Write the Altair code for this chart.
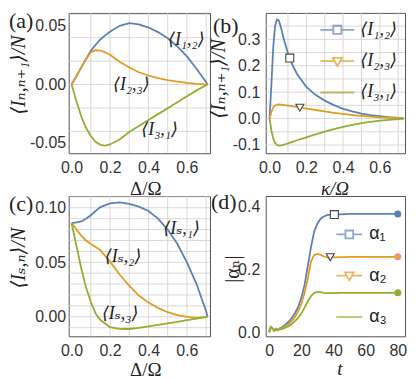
import altair as alt
import pandas as pd

# ---------------- data ----------------
# panel (a): currents vs Delta/Omega
a_x = [0, 0.025, 0.05, 0.075, 0.1, 0.125, 0.15, 0.175, 0.2, 0.25, 0.3, 0.35, 0.4, 0.45, 0.5, 0.55, 0.6, 0.65, 0.7, 0.707]
a_I12 = [0, 0.0072, 0.0144, 0.0216, 0.0288, 0.034, 0.0385, 0.042, 0.045, 0.0502, 0.0525, 0.0514, 0.0487, 0.0448, 0.0395, 0.0325, 0.024, 0.0135, 0.002, 0]
a_I23 = [0, 0.0072, 0.0144, 0.0215, 0.0275, 0.0293, 0.029, 0.0275, 0.0255, 0.0195, 0.0145, 0.0105, 0.0077, 0.0055, 0.0038, 0.0025, 0.0014, 0.0006, 0.0001, 0]
a_I31 = [0, -0.014, -0.027, -0.037, -0.044, -0.049, -0.0515, -0.0522, -0.0512, -0.047, -0.0406, -0.0355, -0.0304, -0.0253, -0.0203, -0.0152, -0.0101, -0.005, -0.0005, 0]
a_names = ["⟨I₁,₂⟩", "⟨I₂,₃⟩", "⟨I₃,₁⟩"]
a_lab_x = [0.597, 0.311, 0.458]
a_lab_y = [0.0376, -0.0008, -0.0393]

# panel (b): currents vs kappa/Omega
b_x = [0, 0.01, 0.02, 0.03, 0.04, 0.05, 0.06, 0.08, 0.1, 0.12, 0.15, 0.2, 0.25, 0.3, 0.35, 0.4, 0.45, 0.5, 0.55, 0.6, 0.65, 0.7, 0.73]
b_I12 = [0, 0.13, 0.27, 0.35, 0.375, 0.372, 0.35, 0.295, 0.248, 0.21, 0.168, 0.12, 0.09, 0.068, 0.051, 0.037, 0.027, 0.019, 0.013, 0.009, 0.0055, 0.003, 0.002]
b_I23 = [0, 0.025, 0.042, 0.05, 0.053, 0.0535, 0.053, 0.051, 0.049, 0.047, 0.044, 0.038, 0.0325, 0.027, 0.022, 0.0175, 0.0135, 0.01, 0.0072, 0.005, 0.0032, 0.0018, 0.0012]
b_I31 = [0, -0.045, -0.075, -0.091, -0.099, -0.102, -0.102, -0.098, -0.094, -0.089, -0.082, -0.071, -0.06, -0.049, -0.04, -0.031, -0.024, -0.017, -0.012, -0.0075, -0.0045, -0.002, -0.001]
b_sq = (0.11, 0.229)
b_tri = (0.165, 0.041)

# panel (c): source currents vs Delta/Omega
c_x = [0, 0.025, 0.05, 0.075, 0.1, 0.125, 0.15, 0.2, 0.25, 0.3, 0.35, 0.4, 0.45, 0.5, 0.55, 0.6, 0.65, 0.7, 0.707]
c_Is1 = [0.086, 0.0866, 0.0874, 0.090, 0.0932, 0.097, 0.1006, 0.1041, 0.105, 0.1035, 0.101, 0.097, 0.090, 0.080, 0.067, 0.050, 0.030, 0.005, 0]
c_Is2 = [0.086, 0.080, 0.0745, 0.070, 0.0668, 0.064, 0.061, 0.0506, 0.0388, 0.0285, 0.0195, 0.013, 0.0082, 0.0042, 0.0015, 0.0, -0.001, -0.0002, 0]
c_Is3 = [0.086, 0.0653, 0.0447, 0.027, 0.0138, 0.003, -0.003, -0.0095, -0.0111, -0.0112, -0.0102, -0.0087, -0.0075, -0.0061, -0.0046, -0.0031, -0.0016, -0.0002, 0]
c_names = ["⟨Iₛ,₁⟩", "⟨Iₛ,₂⟩", "⟨Iₛ,₃⟩"]
c_lab_x = [0.572, 0.268, 0.253]
c_lab_y = [0.0809, 0.0544, 0.0028]

# panel (d): amplitudes vs t
d_t = [0, 0.5, 1, 2, 3, 4, 5, 6, 7, 8, 10, 12, 14, 16, 18, 20, 22, 24, 26, 28, 30, 32, 34, 36, 38, 40, 45, 50, 60, 70, 80]
d_a1 = [0, 0.012, 0.017, 0.012, 0.006, 0.011, 0.008, 0.010, 0.013, 0.016, 0.024, 0.033, 0.045, 0.06, 0.08, 0.11, 0.15, 0.21, 0.27, 0.32, 0.345, 0.36, 0.367, 0.371, 0.373, 0.374, 0.374, 0.375, 0.375, 0.375, 0.375]
d_a2 = [0, 0.011, 0.016, 0.011, 0.005, 0.010, 0.007, 0.009, 0.011, 0.013, 0.019, 0.026, 0.036, 0.048, 0.066, 0.09, 0.125, 0.17, 0.225, 0.245, 0.248, 0.245, 0.240, 0.237, 0.236, 0.237, 0.238, 0.239, 0.239, 0.239, 0.239]
d_a3 = [0, 0.010, 0.015, 0.010, 0.004, 0.009, 0.006, 0.008, 0.009, 0.010, 0.014, 0.019, 0.026, 0.035, 0.046, 0.06, 0.078, 0.098, 0.115, 0.125, 0.128, 0.127, 0.125, 0.124, 0.124, 0.124, 0.125, 0.125, 0.125, 0.125, 0.125]
d_names = ["α₁", "α₂", "α₃"]
d_sq = (40.5, 0.373)
d_tri = (38.0, 0.238)

# ---------------- style ----------------
SANS = "Liberation Sans"
SERIF = "Liberation Serif, DejaVu Serif, DejaVu Sans"
COLORS = ["#5E81B5", "#E19C24", "#8FB032"]
DOTS = ["#5E81B5", "#EE9A70", "#8FB032"]
GRID_C = "#cfcfcf"
TXT = "#222222"
MK = "#444444"
W1, W2, H = 142, 140, 141

# legend symbols: a line with an open square / open down-triangle / nothing in the middle
SYM_B = ["M-1,0H-0.24M0.24,0H1M-0.24,-0.24H0.24V0.24H-0.24Z",
         "M-1,0H-0.16M0.16,0H1M-0.28,-0.2L0.28,-0.2L0,0.28Z",
         "M-1,0H1"]
SYM_D = ["M-1,0H-0.3M0.3,0H1M-0.3,-0.3H0.3V0.3H-0.3Z",
         "M-1,0H-0.2M0.2,0H1M-0.35,-0.26L0.35,-0.26L0,0.35Z",
         "M-1,0H1"]


def long_df(xs, names, series):
    rows = []
    for name, ys in zip(names, series):
        for x, y in zip(xs, ys):
            rows.append({"x": x, "y": y, "s": name})
    return pd.DataFrame(rows)


def minus_expr(fmt):
    return "replace(format(datum.value,'" + fmt + "'),'\u2212','-')"


def x_enc(domain, values, fmt, title, tx, ty, italic):
    return alt.X("x:Q", scale=alt.Scale(domain=domain, nice=False, zero=False),
                 axis=alt.Axis(values=values, labelExpr=minus_expr(fmt), grid=False, ticks=False,
                               domain=False, labelFont=SANS, labelFontSize=16, labelColor="#333",
                               labelPadding=6, title=title, titleFont=SERIF, titleFontSize=19,
                               titleFontWeight="normal", titleFontStyle="italic" if italic else "normal",
                               titleColor=TXT, titleX=tx, titleY=ty, titleAlign="center",
                               titleBaseline="middle"))


def y_enc(domain, values, fmt, title, tx, ty, italic, pad):
    return alt.Y("y:Q", scale=alt.Scale(domain=domain, nice=False, zero=False),
                 axis=alt.Axis(values=values, labelExpr=minus_expr(fmt), grid=False, ticks=False,
                               domain=False, labelFont=SANS, labelFontSize=16, labelColor="#333",
                               labelPadding=pad, title=title, titleFont=SERIF, titleFontSize=20,
                               titleFontWeight="normal", titleFontStyle="italic" if italic else "normal",
                               titleColor=TXT, titleX=tx, titleY=ty, titleAngle=270,
                               titleAlign="center", titleBaseline="middle"))


def grid_layers(X, Y, vx, hy):
    layers = []
    if vx:
        layers.append(alt.Chart(pd.DataFrame({"x": vx})).mark_rule(color=GRID_C, strokeWidth=0.8).encode(x=X))
    if hy:
        layers.append(alt.Chart(pd.DataFrame({"y": hy})).mark_rule(color=GRID_C, strokeWidth=0.8).encode(y=Y))
    return layers


def panel_label(txt, px, py):
    return alt.Chart(pd.DataFrame({"t": [txt]})).mark_text(
        font="Liberation Serif", fontSize=22, align="left", baseline="top", color=TXT
    ).encode(x=alt.value(px), y=alt.value(py), text="t:N")


def color_enc(names, legend):
    return alt.Color("s:N", scale=alt.Scale(domain=names, range=COLORS), legend=legend, sort=names)


def legend_layer(X, Y, names, shapes, legend):
    # carries only the legend: explicit domains, no rows drawn
    df = pd.DataFrame({"x": [0.0] * 3, "y": [0.0] * 3, "s": names})
    return alt.Chart(df).transform_filter("false").mark_point(filled=False, strokeWidth=1.8).encode(
        x=X, y=Y, color=color_enc(names, legend),
        shape=alt.Shape("s:N", scale=alt.Scale(domain=names, range=shapes), legend=legend, sort=names))


def marker(X, Y, pt, shape):
    df = pd.DataFrame({"x": [pt[0]], "y": [pt[1]]})
    return alt.Chart(df).mark_point(shape=shape, filled=True, fill="white", stroke=MK, strokeWidth=1.1,
                                    size=64, opacity=1).encode(x=X, y=Y)


grid01 = [0.1, 0.2, 0.3, 0.4, 0.5, 0.6, 0.7]

# ---------------- panel (a) ----------------
Xa = x_enc([-0.015, 0.72], [0, 0.2, 0.4, 0.6], ".1f", "Δ/Ω", 77, 36, False)
Ya = y_enc([-0.0587, 0.0612], [-0.05, 0, 0.05], ".2f", "⟨Iₙ,ₙ₊₁⟩/N", -50, 62, True, 3)
a_lines = alt.Chart(long_df(a_x, a_names, [a_I12, a_I23, a_I31])).mark_line(strokeWidth=1.8).encode(
    x=Xa, y=Ya, color=color_enc(a_names, None))
a_text = alt.Chart(pd.DataFrame({"x": a_lab_x, "y": a_lab_y, "t": a_names})).mark_text(
    font=SERIF, fontSize=18, fontStyle="italic", color=TXT).encode(x=Xa, y=Ya, text="t:N")
panel_a = alt.layer(*grid_layers(Xa, Ya, grid01, [-0.04, -0.02, 0, 0.02, 0.04, 0.06]),
                    a_lines, a_text, panel_label("(a)", -60, -2)).properties(width=W1, height=H)

# ---------------- panel (b) ----------------
Xb = x_enc([-0.021, 0.737], [0, 0.2, 0.4, 0.6], ".1f", "κ/Ω", 69, 36, True)
Yb = y_enc([-0.131, 0.40], [-0.1, 0, 0.1, 0.2, 0.3], ".1f", "⟨Iₙ,ₙ₊₁⟩/N", -47, 66, True, 6)
leg_b = alt.Legend(orient="none", legendX=54, legendY=-1, title=None, padding=0, labelFont=SERIF,
                   labelFontSize=18, labelFontStyle="italic", labelColor=TXT, labelLimit=200,
                   symbolSize=1156, symbolStrokeWidth=1.8, rowPadding=4.5, labelOffset=5)
b_lines = alt.Chart(long_df(b_x, a_names, [b_I12, b_I23, b_I31])).mark_line(strokeWidth=1.8).encode(
    x=Xb, y=Yb, color=color_enc(a_names, leg_b))
panel_b = alt.layer(legend_layer(Xb, Yb, a_names, SYM_B, leg_b),
                    *grid_layers(Xb, Yb, grid01, [-0.1, -0.05, 0, 0.05, 0.1, 0.15, 0.2, 0.25, 0.3, 0.35]),
                    b_lines, marker(Xb, Yb, b_sq, "square"), marker(Xb, Yb, b_tri, "triangle-down"),
                    panel_label("(b)", -53, 3)).properties(width=W2, height=H)

# ---------------- panel (c) ----------------
Xc = x_enc([-0.015, 0.72], [0, 0.2, 0.4, 0.6], ".1f", "Δ/Ω", 77, 33, False)
Yc = y_enc([-0.0179, 0.1108], [0, 0.05, 0.1], ".2f", "⟨Iₛ,ₙ⟩/N", -50, 62, True, 3)
c_lines = alt.Chart(long_df(c_x, c_names, [c_Is1, c_Is2, c_Is3])).mark_line(strokeWidth=1.8).encode(
    x=Xc, y=Yc, color=color_enc(c_names, None))
c_text = alt.Chart(pd.DataFrame({"x": c_lab_x, "y": c_lab_y, "t": c_names})).mark_text(
    font=SERIF, fontSize=18, fontStyle="italic", color=TXT).encode(x=Xc, y=Yc, text="t:N")
panel_c = alt.layer(*grid_layers(Xc, Yc, grid01, [round(-0.01 + 0.01 * i, 2) for i in range(13)]),
                    c_lines, c_text, panel_label("(c)", -60, -2)).properties(width=W1, height=H)

# ---------------- panel (d) ----------------
Xd = x_enc([-2.2, 84.5], [0, 20, 40, 60, 80], "d", "t", 74, 32, True)
Yd = y_enc([-0.013, 0.432], [0, 0.2, 0.4], ".1f", "|αₙ|", -33, 73, False, 6)
leg_d = alt.Legend(orient="none", legendX=70, legendY=24.6, title=None, padding=0, labelFont=SANS,
                   labelFontSize=18, labelColor=TXT, labelLimit=200,
                   symbolSize=676, symbolStrokeWidth=1.8, rowPadding=18.5, labelOffset=6)
d_df = long_df(d_t, d_names, [d_a1, d_a2, d_a3])
d_lines = alt.Chart(d_df).mark_line(strokeWidth=1.8).encode(
    x=Xd, y=Yd, color=color_enc(d_names, leg_d))
d_ends = [
    alt.Chart(d_df).transform_filter(
        "datum.x == 80 && datum.s == '" + name + "'"
    ).mark_circle(size=50, opacity=1, color=col).encode(x=Xd, y=Yd)
    for name, col in zip(d_names, DOTS)
]
panel_d = alt.layer(legend_layer(Xd, Yd, d_names, SYM_D, leg_d),
                    d_lines, *d_ends, marker(Xd, Yd, d_sq, "square"), marker(Xd, Yd, d_tri, "triangle-down"),
                    panel_label("(d)", -55, -4)).properties(width=W2, height=H)

chart = alt.concat(panel_a, panel_b, panel_c, panel_d, columns=2,
                   spacing={"row": 43, "column": 56}, bounds="flush").resolve_scale(
    color="independent", shape="independent"
).resolve_legend(color="independent", shape="independent").properties(
    padding=0, background="white"
).configure_view(stroke="#555555", strokeWidth=1)

chart.save("out.html", embed_options={"renderer": "svg", "actions": False})
